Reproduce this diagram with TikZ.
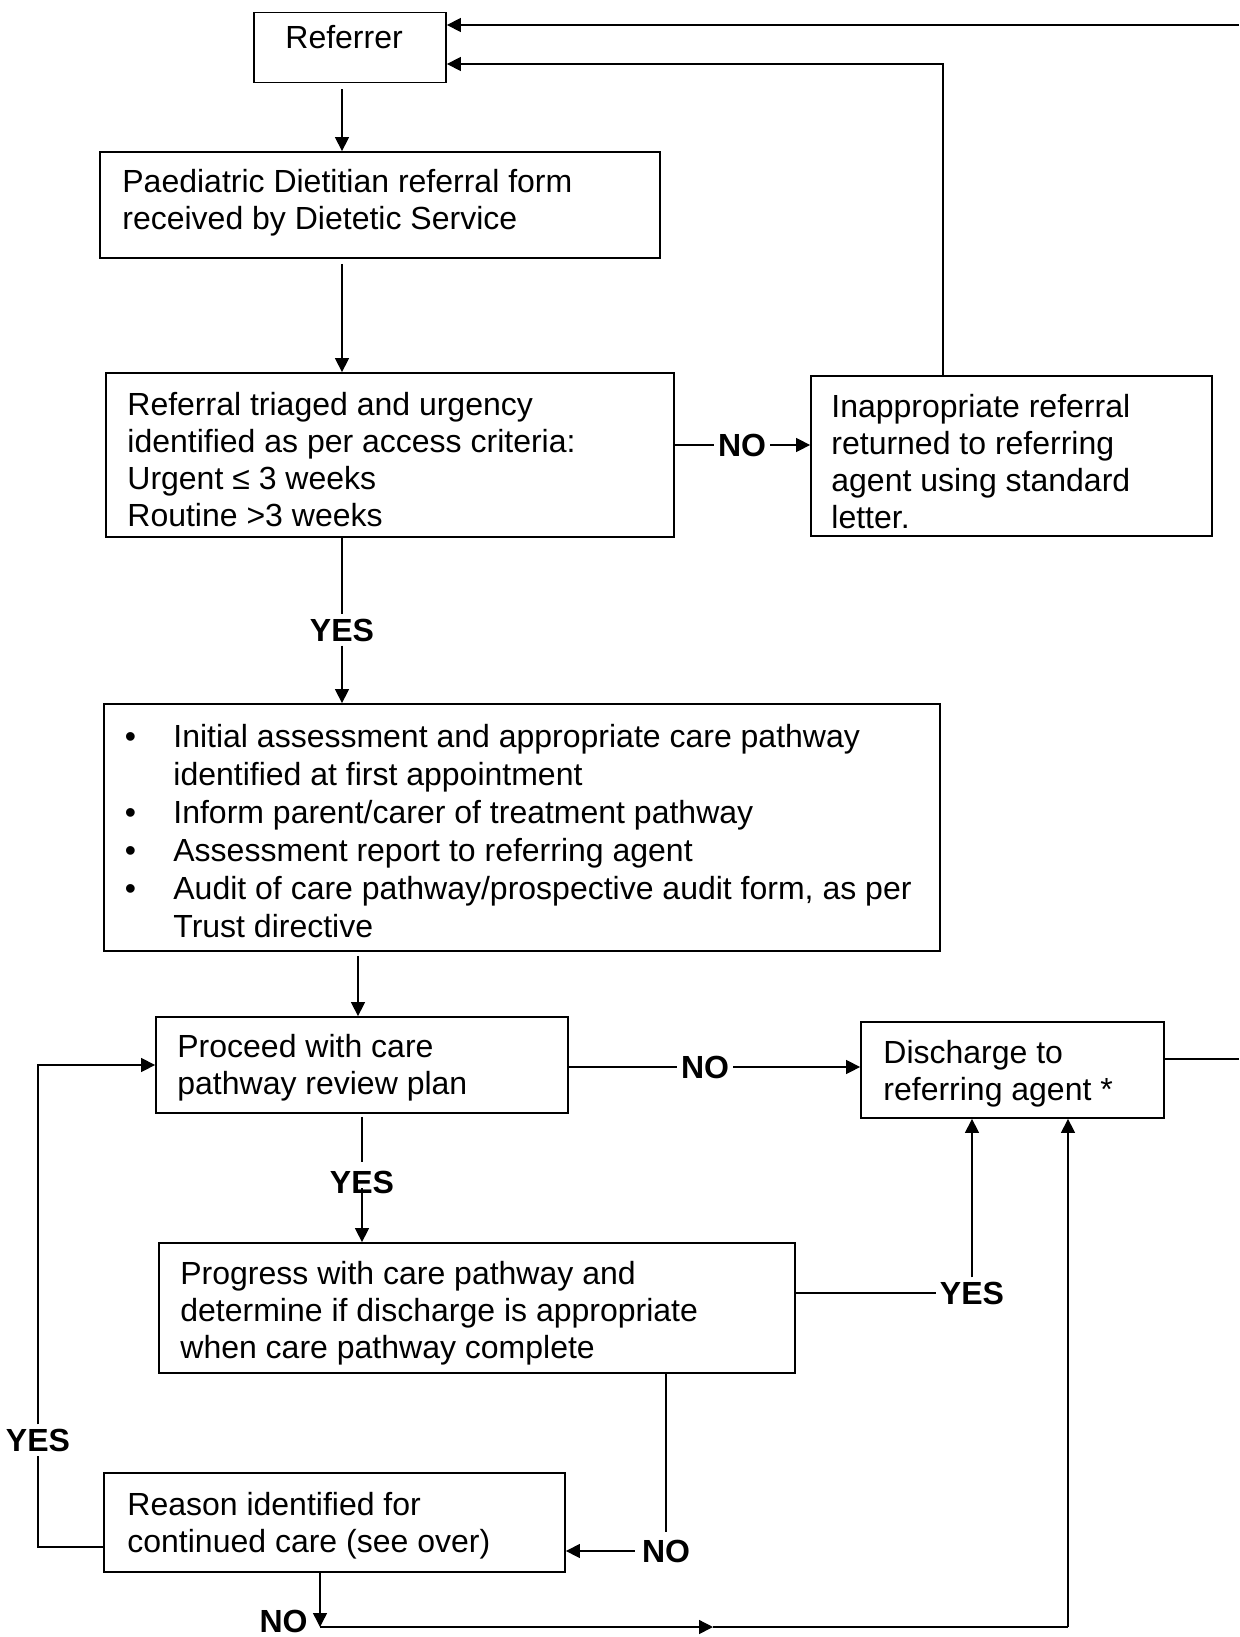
\documentclass[tikz,border=0pt]{standalone}
\usepackage{fontspec}
\setmainfont{Liberation Sans}
\usetikzlibrary{arrows.meta}
\newcommand{\bulmark}{\makebox[24.3pt][l]{\textbullet}}
\newcommand{\bulind}{\hspace*{24.3pt}}
\begin{document}
\begin{tikzpicture}[x=0.5pt,y=-0.5pt,
  every node/.style={font=\fontsize{16}{18.5}\selectfont},
  boxst/.style={draw,line width=0.9pt,inner sep=0pt},
  txtst/.style={anchor=north west,inner sep=0pt,align=left},
  labst/.style={font=\bfseries\fontsize{16}{18.5}\selectfont,inner xsep=2pt,inner ysep=2pt},
  conn/.style={line width=0.7pt},
  arrst/.style={conn,-{Triangle[length=7pt,width=7pt]}}]
\useasboundingbox (0,0) rectangle (1239,1637);

% boxes
\node[boxst,minimum width=96pt,minimum height=35pt] (ref) at (350,47.5) {};
\node[boxst,minimum width=280pt,minimum height=53pt] (paed) at (380,205) {};
\node[boxst,minimum width=284pt,minimum height=82pt] (triage) at (390,455) {};
\node[boxst,minimum width=200.5pt,minimum height=80pt] (inap) at (1011.5,456) {};
\node[boxst,minimum width=418pt,minimum height=123.5pt] (bul) at (522,827.5) {};
\node[boxst,minimum width=206pt,minimum height=48pt] (proc) at (362,1065) {};
\node[boxst,minimum width=151.5pt,minimum height=48pt] (dis) at (1012.5,1070) {};
\node[boxst,minimum width=318pt,minimum height=65pt] (prog) at (477,1308) {};
\node[boxst,minimum width=230.5pt,minimum height=49.5pt] (reason) at (334.5,1522.5) {};

% texts
\node[txtst] (reft) at (285,22) {\strut Referrer};
\node[txtst] (paedt) at (122,166.5) {\strut Paediatric Dietitian referral form\\received by Dietetic Service};
\node[txtst] (triaget) at (127,389) {\strut Referral triaged and urgency\\identified as per access criteria:\\Urgent ≤ 3 weeks\\Routine >3 weeks};
\node[txtst] (inapt) at (831,391) {\strut Inappropriate referral\\returned to referring\\agent using standard\\letter.};
\node[txtst,font=\fontsize{16}{19}\selectfont] (bult) at (124.4,720.3) {\strut\bulmark Initial assessment and appropriate care pathway\\\bulind identified at first appointment\\\bulmark Inform parent/carer of treatment pathway\\\bulmark Assessment report to referring agent\\\bulmark Audit of care pathway/prospective audit form, as per\\\bulind Trust directive};
\node[txtst] (proct) at (177,1031.1) {\strut Proceed with care\\pathway review plan};
\node[txtst] (dist) at (883,1037) {\strut Discharge to\\referring agent *};
\node[txtst] (progt) at (180,1258.1) {\strut Progress with care pathway and\\determine if discharge is appropriate\\when care pathway complete};
\node[txtst] (reasont) at (127,1489) {\strut Reason identified for\\continued care (see over)};

% labels
\node[labst] (noA) at (742,445) {NO};
\node[labst] (yesA) at (342,630) {YES};
\node[labst] (noB) at (705,1067) {NO};
\node[labst,inner sep=0pt] (yesB) at (362,1182.5) {YES};
\node[labst] (yesC) at (972,1293) {YES};
\node[labst,inner sep=3.5pt] (noC) at (666,1551) {NO};
\node[labst] (yesD) at (38,1440) {YES};
\node[labst,inner sep=0pt] (noD) at (283.5,1621) {NO};

% helper coordinates
\coordinate (c1) at (342,0);
\coordinate (c2) at (358,0);
\coordinate (tr) at (1239,25);
\coordinate (ru) at (943,64);
\coordinate (dr) at (1239,1059);
\coordinate (yl) at (38,1547);
\coordinate (b1) at (320,1627);
\coordinate (bm) at (713,1627);
\coordinate (b2) at (1068,1627);

% connectors
\draw[arrst] (tr) -- (ref.east |- tr);
\draw[arrst] (inap.north -| ru) -- (ru) -- (ref.east |- ru);
\draw[arrst,shorten <=3pt] (ref.south -| c1) -- (paed.north -| c1);
\draw[arrst,shorten <=2.5pt] (paed.south -| c1) -- (triage.north -| c1);
\draw[conn] (triage.east |- noA) -- (noA.west);
\draw[arrst] (noA.east) -- (inap.west |- noA);
\draw[conn] (triage.south -| yesA) -- (yesA.north);
\draw[arrst] (yesA.south) -- (bul.north -| yesA);
\draw[arrst,shorten <=2pt] (bul.south -| c2) -- (proc.north -| c2);
\draw[conn] (proc.east |- noB) -- (noB.west);
\draw[arrst] (noB.east) -- (dis.west |- noB);
\draw[conn] (dis.east |- dr) -- (dr);
\draw[conn,shorten <=1.5pt,shorten >=4.5pt] (proc.south -| yesB) -- (yesB.north);
\draw[arrst,shorten <=-3pt] (yesB.south) -- (prog.north -| yesB);
\draw[conn] (prog.east |- yesC) -- (yesC.west);
\draw[arrst] (yesC.north) -- (dis.south -| yesC);
\draw[conn] (prog.south -| noC) -- (noC.north);
\draw[arrst] (noC.west) -- (reason.east |- noC);
\draw[conn] (reason.west |- yl) -- (yl) -- (yesD.south);
\draw[arrst] (yesD.north) -- (yesD.north |- proc.west) -- (proc.west);
\draw[arrst] (reason.south -| b1) -- (b1);
\draw[arrst] (b1) -- (bm);
\draw[conn] (bm) -- (b2);
\draw[arrst] (b2) -- (dis.south -| b2);
\end{tikzpicture}
\end{document}
